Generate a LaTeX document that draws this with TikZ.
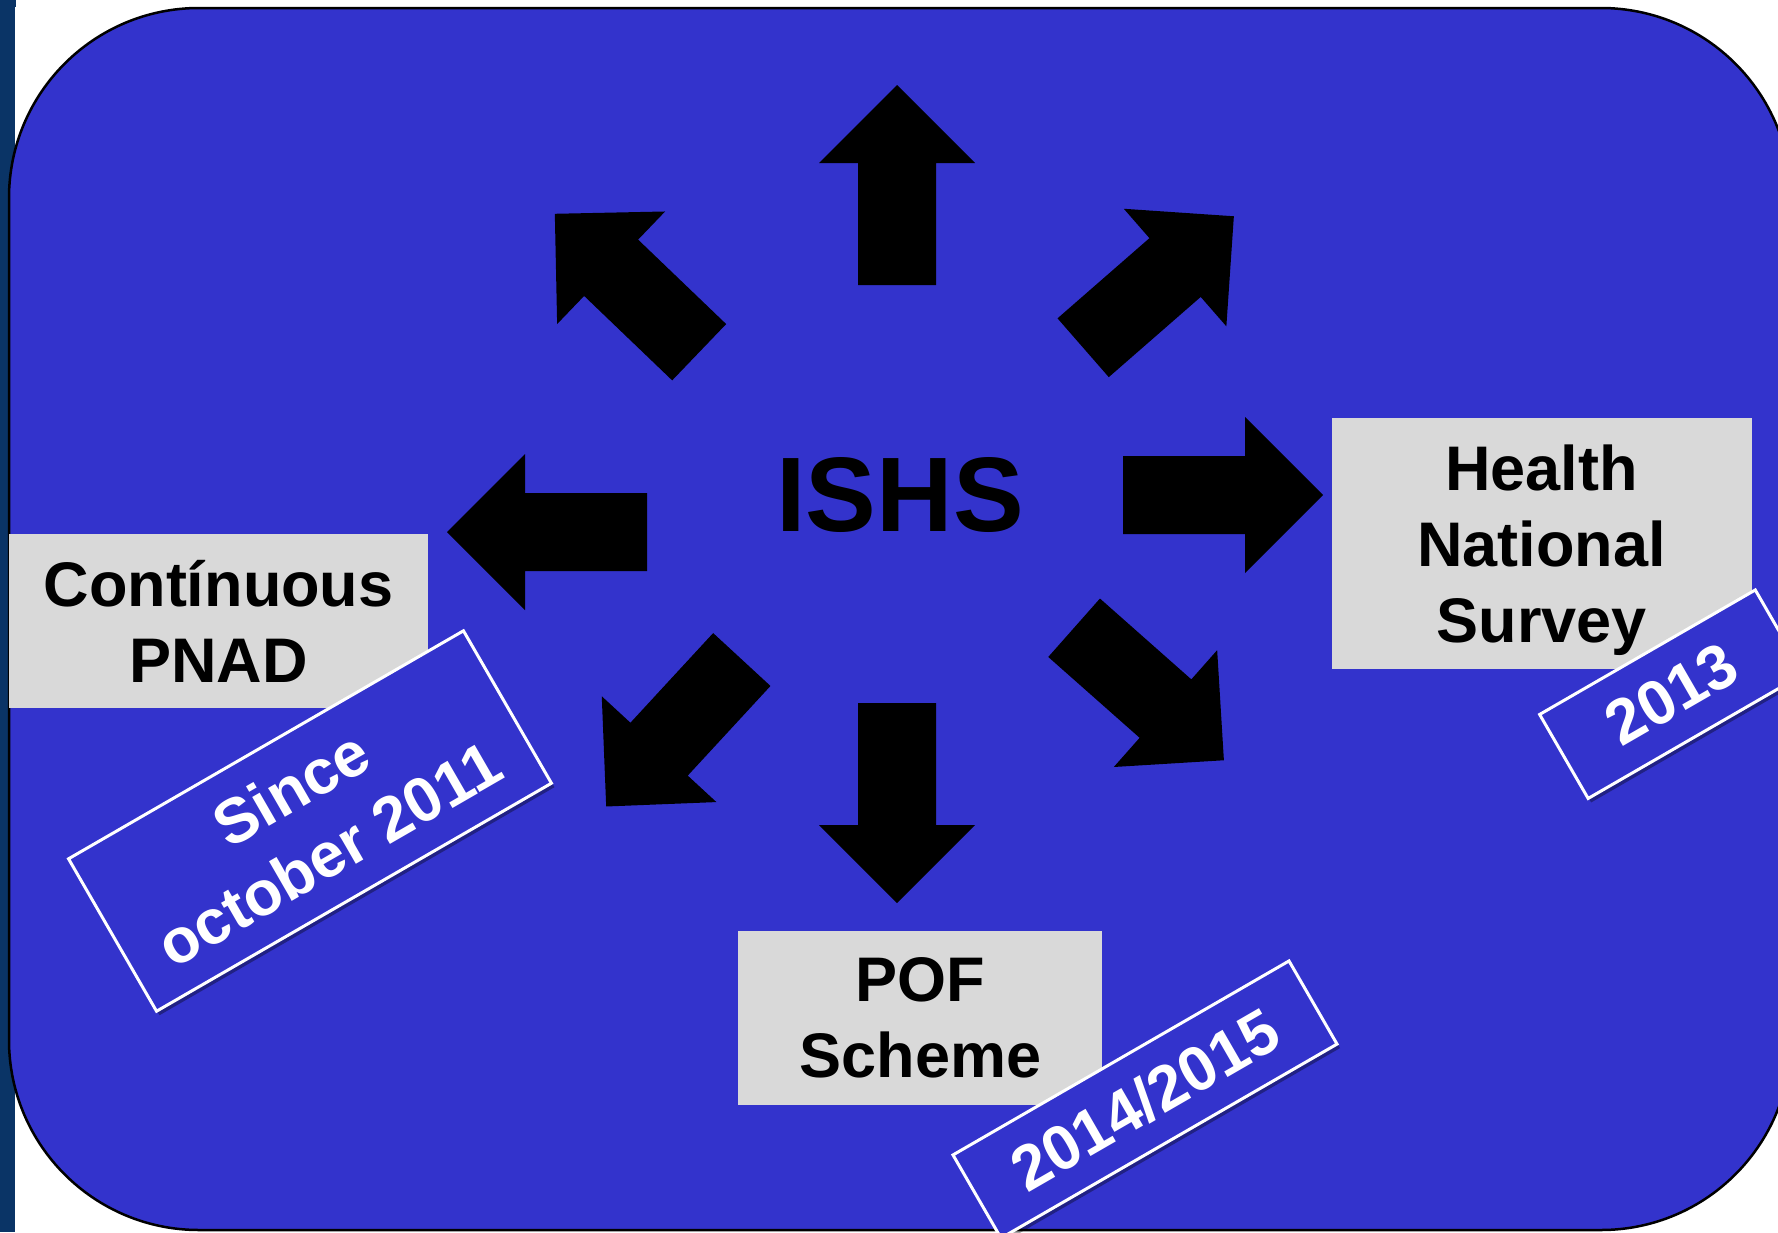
\documentclass[tikz,border=0pt]{standalone}
\usepackage{fontspec}
\setmainfont{Liberation Sans}
\usetikzlibrary{shadows}
\definecolor{bgblue}{RGB}{51,51,204}
\definecolor{navy}{RGB}{10,52,102}
\definecolor{labelgray}{RGB}{217,217,217}
\begin{document}
\begin{tikzpicture}[x=1pt,y=-1pt,
  panel/.style={fill=bgblue, draw=black, line width=2.5pt, rounded corners=190pt},
  bigarrow/.style={fill=black, draw=none},
  labelbox/.style={fill=labelgray, draw=none, inner sep=0pt, align=center,
    font=\fontsize{63}{76}\selectfont\bfseries, text=black},
  datebox/.style={fill=bgblue, draw=white, line width=3pt, inner sep=0pt, align=center,
    font=\fontsize{63}{76}\selectfont\bfseries, text=white, rotate=30,
    drop shadow={shadow xshift=3pt, shadow yshift=-4pt, opacity=0.35, fill=black}},
  title/.style={font=\fontsize{106}{120}\selectfont\bfseries, text=black, inner sep=0pt}]
\useasboundingbox (0,0) rectangle (1778,1232);
\clip (0,0) rectangle (1778,1232);
\fill[white] (0,0) rectangle (1778,1232);
\fill[navy] (0,0) rectangle (14.5,1232);
\fill[navy] (0,0) rectangle (16,7);
\draw[panel] (9,8) rectangle (1791,1230);

% arrows radiating from ISHS
\fill[bigarrow, shift={(897,185)}, rotate=90] (-100,-39) -- (22,-39) -- (22,-78) -- (100,0) -- (22,78) -- (22,39) -- (-100,39) -- cycle;
\fill[bigarrow, shift={(1158.5,282)}, rotate=41.1] (-100,-39) -- (22,-39) -- (22,-78) -- (100,0) -- (22,78) -- (22,39) -- (-100,39) -- cycle;
\fill[bigarrow, shift={(1223,495)}, rotate=0] (-100,-39) -- (22,-39) -- (22,-78) -- (100,0) -- (22,78) -- (22,39) -- (-100,39) -- cycle;
\fill[bigarrow, shift={(1149,694)}, rotate=-41.5] (-100,-39) -- (22,-39) -- (22,-78) -- (100,0) -- (22,78) -- (22,39) -- (-100,39) -- cycle;
\fill[bigarrow, shift={(897,803)}, rotate=-90] (-100,-39) -- (22,-39) -- (22,-78) -- (100,0) -- (22,78) -- (22,39) -- (-100,39) -- cycle;
\fill[bigarrow, shift={(674,733)}, rotate=-132.7] (-100,-39) -- (22,-39) -- (22,-78) -- (100,0) -- (22,78) -- (22,39) -- (-100,39) -- cycle;
\fill[bigarrow, shift={(547,532)}, rotate=180] (-100,-39) -- (22,-39) -- (22,-78) -- (100,0) -- (22,78) -- (22,39) -- (-100,39) -- cycle;
\fill[bigarrow, shift={(627,283)}, rotate=136.2] (-100,-39) -- (22,-39) -- (22,-78) -- (100,0) -- (22,78) -- (22,39) -- (-100,39) -- cycle;

\node[title] (ishs) at (900,495.5) {ISHS};

\node[labelbox, minimum width=419pt, minimum height=174pt] (pnad) at (218.5,621) {Contínuous\\PNAD};
\node[labelbox, minimum width=420pt, minimum height=251pt] (hns) at (1541.7,543.8) {\rule{0pt}{58pt}Health\\National\\Survey};
\node[labelbox, minimum width=364pt, minimum height=174pt] (pof) at (920.3,1017.9) {POF\\Scheme};

\node[datebox, minimum width=456pt, minimum height=176pt] (since) at (310,821) {Since\\october 2011};
\node[datebox, minimum width=249pt, minimum height=97pt] (d2013) at (1671.7,694.2) {2013};
\node[datebox, minimum width=388pt, minimum height=96pt] (d2014) at (1145,1099.5) {2014/2015};
\end{tikzpicture}
\end{document}
